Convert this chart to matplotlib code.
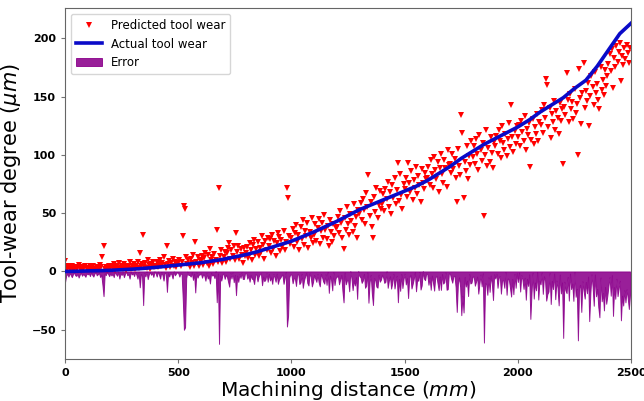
# -*- coding: utf-8 -*-

import numpy as np
import matplotlib
matplotlib.use('Agg')
import matplotlib.pyplot as plt


# actual tool wear, read every 50 mm
actual_distance = list(range(0, 2501, 50))
actual_wear = [
    0.0, 0.2, 0.5, 0.7, 1.0, 1.5, 2.0, 2.7, 3.5, 4.5,
    5.5, 6.5, 7.5, 9.0, 10.5, 12.5, 14.5, 17.0, 20.0, 23.0,
    26.0, 30.0, 34.0, 38.5, 43.0, 48.0, 53.0, 57.0, 61.0, 65.0,
    69.0, 73.0, 78.0, 84.0, 90.0, 97.0, 103.0, 109.0, 114.0, 119.0,
    124.0, 130.0, 137.0, 143.0, 149.0, 157.0, 164.0, 176.0, 190.0, 204.0,
    213.0,
    ]

# predicted tool wear, one point every 5 mm (one row = 100 mm)
predicted_distance = list(range(0, 2500, 5))
predicted_wear = [
    9.0, 3.5, 2.0, 4.5, 1.5, 3.0, 5.0, 2.5, 1.0, 3.5, 4.0, 2.0, 5.5, 3.0, 1.5, 4.0, 2.5, 3.5, 5.0, 2.0,
    3.0, 2.0, 4.5, 1.5, 3.5, 5.0, 2.5, 1.0, 4.0, 3.0, 2.0, 5.5, 3.5, 12.0, 22.0, 2.5, 4.0, 1.5, 3.0, 5.0,
    2.5, 4.5, 3.0, 6.0, 1.5, 3.5, 5.0, 2.0, 7.5, 3.0, 4.5, 2.5, 6.5, 3.5, 1.5, 5.0, 4.0, 8.0, 2.5, 4.5,
    3.5, 6.0, 2.5, 5.0, 8.5, 3.0, 16.0, 4.5, 6.5, 31.5, 4.0, 7.0, 3.0, 9.5, 5.5, 2.5, 6.0, 4.5, 8.0, 3.5,
    5.0, 8.0, 3.5, 6.5, 10.0, 4.5, 7.0, 12.0, 5.5, 3.0, 22.0, 6.0, 9.0, 4.0, 7.5, 11.0, 5.0, 8.5, 3.5, 6.0,
    7.0, 10.0, 4.5, 8.5, 30.0, 56.0, 54.0, 12.0, 6.0, 9.5, 3.5, 11.0, 7.5, 14.0, 5.0, 25.0, 8.0, 12.5, 4.5, 10.0,
    9.0, 13.0, 5.5, 11.5, 16.0, 7.0, 14.5, 4.5, 19.0, 10.0, 12.5, 6.5, 15.0, 9.5, 36.0, 8.0, 72.0, 13.5, 18.0, 7.5,
    12.0, 17.0, 8.0, 15.5, 20.0, 24.5, 10.5, 18.0, 13.0, 21.5, 9.5, 33.0, 16.5, 22.0, 11.0, 19.0, 14.5, 7.5, 20.5, 13.0,
    16.0, 21.0, 11.5, 24.0, 18.5, 9.5, 22.5, 27.0, 14.0, 19.5, 25.5, 13.0, 20.0, 16.5, 30.0, 23.0, 10.5, 26.0, 18.0, 28.5,
    22.0, 28.0, 15.5, 31.5, 19.0, 26.5, 13.0, 24.0, 33.0, 29.5, 17.5, 27.0, 21.0, 34.5, 18.5, 25.0, 72.0, 63.0, 30.5, 23.5,
    29.0, 36.5, 21.0, 33.0, 40.0, 25.5, 31.0, 18.0, 38.5, 27.5, 44.0, 22.5, 35.0, 30.0, 41.5, 20.0, 34.0, 28.5, 46.0, 24.5,
    31.0, 40.5, 26.0, 37.5, 45.0, 23.5, 34.5, 42.0, 29.0, 48.5, 36.0, 27.5, 39.0, 21.5, 44.0, 33.5, 25.0, 41.0, 30.5, 37.0,
    38.5, 47.0, 33.0, 51.5, 42.0, 29.0, 19.5, 45.5, 36.0, 55.0, 40.5, 31.5, 49.0, 43.5, 34.0, 58.0, 39.0, 46.5, 28.5, 52.5,
    49.0, 58.5, 44.0, 62.0, 52.5, 41.0, 67.5, 55.0, 83.0, 47.5, 60.0, 38.5, 29.0, 64.0, 51.0, 72.0, 45.5, 57.0, 69.0, 53.5,
    58.0, 66.5, 52.0, 71.0, 62.5, 77.0, 55.5, 68.0, 49.5, 74.5, 63.0, 80.0, 57.5, 70.0, 93.0, 60.5, 84.0, 65.5, 54.0, 75.0,
    71.0, 80.5, 64.0, 93.0, 75.5, 68.0, 86.0, 61.0, 78.5, 72.0, 90.0, 66.5, 82.0, 74.0, 59.5, 87.5, 76.0, 70.5, 84.5, 79.0,
    80.5, 90.0, 74.0, 95.5, 84.0, 71.5, 98.0, 87.0, 79.0, 93.5, 68.0, 89.0, 101.0, 83.5, 76.0, 96.0, 88.5, 72.5, 104.0, 91.0,
    92.0, 84.5, 101.0, 88.0, 96.5, 80.0, 59.5, 105.0, 90.5, 83.0, 134.5, 118.5, 63.0, 94.0, 86.5, 108.0, 79.5, 99.0, 91.5, 112.0,
    98.5, 108.0, 92.0, 113.5, 101.0, 87.0, 117.0, 104.5, 95.0, 110.0, 48.0, 99.5, 121.0, 90.5, 106.0, 94.0, 115.5, 102.0, 88.5, 111.0,
    108.0, 116.5, 101.0, 121.0, 112.0, 97.5, 124.5, 110.0, 104.0, 118.0, 99.0, 113.5, 127.0, 106.5, 142.5, 115.0, 102.5, 120.5, 109.0, 125.0,
    115.0, 125.5, 108.0, 129.0, 119.5, 112.0, 133.0, 104.0, 122.5, 117.0, 127.5, 90.0, 113.0, 131.0, 109.5, 124.0, 118.0, 135.5, 111.5, 128.0,
    126.0, 138.5, 119.0, 143.0, 131.5, 165.0, 160.0, 124.0, 140.5, 114.5, 135.0, 128.5, 146.0, 121.0, 137.5, 132.0, 117.5, 144.5, 129.0, 139.0,
    92.0, 141.0, 134.5, 170.0, 147.5, 128.0, 152.0, 139.5, 145.0, 131.0, 156.5, 136.0, 143.5, 100.0, 174.0, 149.0, 126.5, 153.5, 179.0, 140.0,
    155.0, 146.5, 162.0, 125.0, 150.5, 167.5, 158.0, 143.0, 171.0, 153.5, 161.0, 147.0, 139.5, 175.0, 156.0, 164.5, 151.0, 172.5, 159.5, 168.0,
    178.0, 186.5, 172.0, 191.0, 157.5, 183.5, 175.0, 193.5, 180.0, 188.0, 196.0, 163.0, 185.0, 177.5, 191.5, 182.0, 194.0, 187.5, 179.0, 192.0,
    ]

x_ticks = [0, 500, 1000, 1500, 2000, 2500]
y_ticks = [-50, 0, 50, 100, 150, 200]


x_pred = np.array(predicted_distance, dtype = float)
y_pred = np.array(predicted_wear, dtype = float)
# error = predicted - actual (actual taken at the same distance), drawn downwards
y_actual_at_pred = np.interp(x_pred, actual_distance, actual_wear)
error = -np.abs(y_pred - y_actual_at_pred)

fig = plt.figure(figsize = (6.44, 4.01), dpi = 100)
axes = fig.add_axes([0.101, 0.105, 0.879, 0.875])

axes.fill_between(x_pred, 0, error, color = '#8b008b', alpha = 0.88, linewidth = 0.7,
    label = 'Error', zorder = 1)
axes.plot(x_pred, y_pred, 'v', color = 'red', markersize = 4.2, markeredgewidth = 0,
    label = 'Predicted tool wear', zorder = 2)
axes.plot(actual_distance, actual_wear, color = '#0a0ac8', linewidth = 2.6,
    label = 'Actual tool wear', zorder = 3)

axes.set_xlim(0, 2500)
axes.set_ylim(-75, 226)
axes.set_xticks(x_ticks)
axes.set_yticks(y_ticks)
for label in axes.get_xticklabels() + axes.get_yticklabels():
    label.set_fontweight('bold')
    label.set_fontsize(8)
axes.tick_params(length = 3, color = '0.45')
for spine in axes.spines.values():
    spine.set_color('0.4')

axes.set_xlabel('Machining distance ($mm$)', fontsize = 14.5, labelpad = 1)
axes.set_ylabel('Tool-wear degree ($\\mu m$)', fontsize = 15, labelpad = 6)

handles, labels = axes.get_legend_handles_labels()
order = [1, 2, 0]
axes.legend([handles[i] for i in order], [labels[i] for i in order],
    loc = 'upper left', fontsize = 8.5, handlelength = 2.2)

fig.savefig('out.png', dpi = 100)
